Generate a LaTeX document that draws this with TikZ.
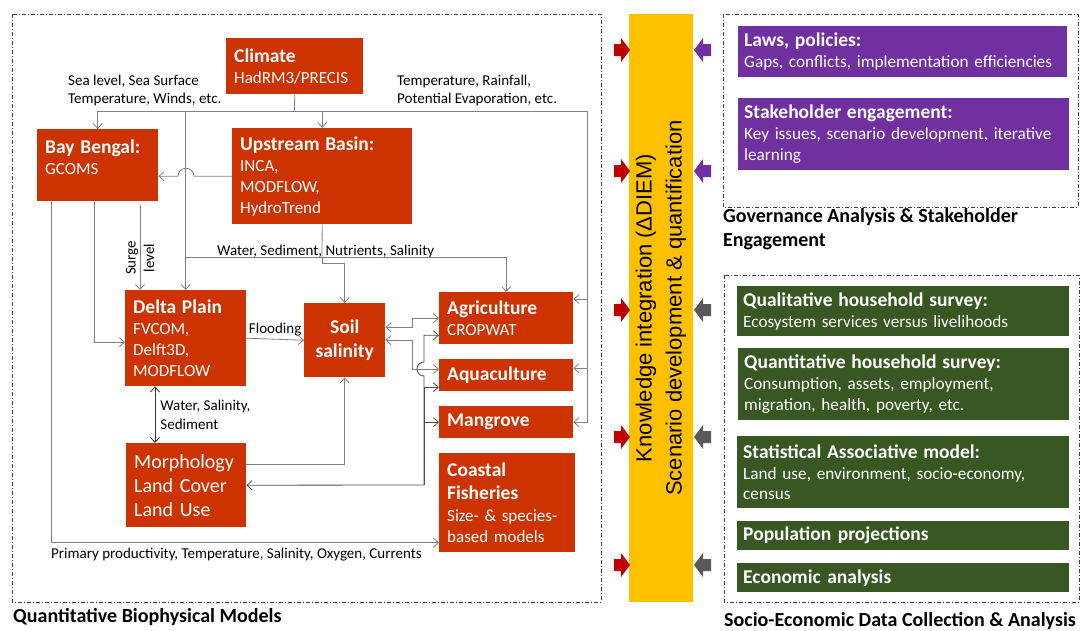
\documentclass[tikz,border=0pt]{standalone}
\usepackage{fontspec}
\setmainfont{Carlito}
\newfontfamily\arialfont{Liberation Sans}
\usetikzlibrary{arrows.meta, positioning, calc}

\definecolor{modelred}{RGB}{204,51,0}
\definecolor{govpurple}{RGB}{112,48,160}
\definecolor{socgreen}{RGB}{56,87,35}
\definecolor{integyellow}{RGB}{255,192,0}
\definecolor{linkgray}{RGB}{128,128,128}
\definecolor{darkred}{RGB}{192,0,0}
\definecolor{arrowgray}{RGB}{89,89,89}

\newcommand{\hdr}{\fontsize{19.5}{22}\selectfont\bfseries}

\tikzset{
    model/.style={fill=modelred, text=white, anchor=north west, align=left,
        inner xsep=8pt, inner ysep=2pt, font=\fontsize{17}{21}\selectfont},
    govbox/.style={fill=govpurple, text=white, anchor=north west, align=left,
        inner xsep=6pt, inner ysep=2pt, font=\fontsize{17.2}{21}\selectfont},
    socbox/.style={govbox, fill=socgreen},
    lbl/.style={inner sep=2pt, font=\fontsize{15}{18.5}\selectfont},
    grouplbl/.style={inner sep=1pt, font=\fontsize{20}{24}\selectfont\bfseries},
    groupframe/.style={draw=black!75, line width=0.7pt,
        dash pattern=on 4pt off 2pt on 1pt off 2pt},
    link/.style={draw=linkgray, line width=0.8pt},
    arr/.style={link, -{Straight Barb[length=5pt, width=9pt]}},
    dblarr/.style={link,
        {Straight Barb[length=5pt, width=9pt]}-{Straight Barb[length=5pt, width=9pt]}},
    darkarr/.style={draw=black!70, line width=0.8pt,
        -{Straight Barb[length=5pt, width=9pt]}},
}

\begin{document}
\begin{tikzpicture}[x=1pt, y=-1pt]
        \useasboundingbox (0,0) rectangle (1080,630);

        \draw[groupframe] (12,14) rectangle (601,602);
        \draw[groupframe] (723,14) rectangle (1078,207);
        \draw[groupframe] (724,275) rectangle (1079,602);

        \node[model, text width=121pt, minimum height=56pt] (climate) at (226,38)
            {{\hdr Climate}\\HadRM3/PRECIS};
        \node[model, text width=105pt, minimum height=72pt] (bay) at (37,129)
            {{\hdr Bay Bengal:}\\GCOMS\\[-4pt]\mbox{}};
        \node[model, text width=164pt, minimum height=96pt] (upstream) at (232,128)
            {{\hdr Upstream Basin:}\\INCA,\\MODFLOW,\\HydroTrend};
        \node[model, text width=105pt, minimum height=96pt] (delta) at (125,290)
            {{\hdr Delta Plain}\\FVCOM,\\Delft3D,\\MODFLOW};
        \node[model, text width=104pt, minimum height=84pt,
            font=\fontsize{20}{24}\selectfont] (morph) at (126,443)
            {Morphology\\Land Cover\\Land Use};
        \node[model, text width=65pt, minimum height=74pt, align=center,
            font=\fontsize{19.5}{24}\selectfont\bfseries] (soil) at (304,303)
            {Soil\\salinity};
        \node[model, text width=118pt, minimum height=52pt] (agri) at (439,292)
            {{\hdr Agriculture}\\CROPWAT};
        \node[model, text width=118pt, minimum height=32pt, font=\hdr] (aqua) at (439,359)
            {Aquaculture};
        \node[model, text width=118pt, minimum height=32pt, font=\hdr] (mangrove) at (439,406)
            {Mangrove};
        \node[model, text width=120pt, minimum height=99pt] (fish) at (439,453)
            {{\hdr Coastal\\[2pt]Fisheries}\\[1pt]Size- \& species-\\based models};

        \node[govbox, text width=317pt, minimum height=51pt] (laws) at (738,26)
            {{\hdr Laws, policies:}\\Gaps, conflicts, implementation efficiencies};
        \node[govbox, text width=319pt, minimum height=72pt] (stake) at (738,98)
            {{\hdr Stakeholder engagement:}\\Key issues, scenario development, iterative\\learning};

        \node[socbox, text width=320pt, minimum height=50pt] (qual) at (737,286)
            {{\hdr Qualitative household survey:}\\Ecosystem services versus livelihoods};
        \node[socbox, text width=319pt, minimum height=72pt] (quant) at (738,348)
            {{\hdr Quantitative household survey:}\\Consumption, assets, employment,\\migration, health, poverty, etc.};
        \node[socbox, text width=320pt, minimum height=72pt] (stat) at (737,436)
            {{\hdr Statistical Associative model:}\\Land use, environment, socio-economy,\\census};
        \node[socbox, text width=320pt, minimum height=29pt, font=\hdr] (pop) at (737,521)
            {Population projections};
        \node[socbox, text width=320pt, minimum height=29pt, font=\hdr] (econ) at (737,563)
            {Economic analysis};

        \node[
            fill=integyellow,
            rotate=90,
            minimum width=588pt,
            minimum height=64pt,
            inner sep=0pt,
            align=center,
            font=\arialfont\fontsize{22}{30}\selectfont
        ] (integ) at (661,308) {Knowledge integration (ΔDIEM)\\Scenario development \& quantification};

        \foreach \y in {50,171,310,437,565}
            \fill[darkred, shift={(0,\y)}] (614,-6) -- (621,-6) -- (621,-12) -- (630,0)
                -- (621,12) -- (621,6) -- (614,6) -- cycle;
        \foreach \y/\c in {50/govpurple,171/govpurple,310/arrowgray,437/arrowgray,565/arrowgray}
            \fill[\c, shift={(0,\y)}] (694,0) -- (703,-12) -- (703,-6) -- (711,-6)
                -- (711,6) -- (703,6) -- (703,12) -- cycle;

        \node[grouplbl, anchor=west] (biolbl) at (12,617) {Quantitative Biophysical Models};
        \node[grouplbl, anchor=north west, align=left] (govlbl) at (722,207)
            {Governance Analysis \& Stakeholder\\Engagement};
        \node[grouplbl, anchor=west] (soclbl) at (723,621) {Socio-Economic Data Collection \& Analysis};

        \node[lbl, anchor=west, align=left] (sealbl) at (66,90.5)
            {Sea level, Sea Surface\\Temperature, Winds, etc.};
        \node[lbl, anchor=west, align=left] (templbl) at (395,90.5)
            {Temperature, Rainfall,\\Potential Evaporation, etc.};
        \node[lbl, anchor=west] (waterlbl) at (215,251) {Water, Sediment, Nutrients, Salinity};
        \node[lbl, anchor=west] (primlbl) at (49,555)
            {Primary productivity, Temperature, Salinity, Oxygen, Currents};

        \coordinate (cbus) at (294.5,111);
        \coordinate (dbus) at (delta.north |- cbus);
        \coordinate (tbus) at (587,111);
        \coordinate (wbus) at (322,257);
        \coordinate (kbus) at (424,485);

        \draw[link] (climate.south) -- (cbus);
        \draw[arr] (cbus) -| (bay.north);
        \draw[arr] (cbus) -| (upstream.north);
        \draw[link] (cbus) -- (tbus);
        \draw[arr] (tbus) |- ([yshift=-7pt]agri.north east);
        \draw[arr] (tbus) |- ([yshift=7pt]aqua.east);
        \draw[arr] (tbus) |- (mangrove.east);
        \draw[arr] (dbus) -- (delta.north);
        \draw[arr] (upstream.west) -- ++(-38,0) arc[start angle=0, end angle=180, radius=8pt]
            -- (bay.east |- upstream.west);

        \draw[link] (upstream.south) -- (wbus);
        \draw[link] (wbus) -- (dbus |- wbus);
        \draw[arr] (wbus) -| (agri.north);
        \draw[arr] (wbus) -- ++(0,6) -| (soil.north);

        \draw[arr] ([xshift=14pt]bay.south west) |- ([yshift=-40pt]fish.west);
        \draw[arr] ([xshift=57pt]bay.south west) |- ([yshift=-4pt]delta.west);
        \draw[arr] ([xshift=103pt, yshift=-4pt]bay.south west) -- ([xshift=15pt]delta.north west)
            node[lbl, pos=0.62, rotate=90, align=center] {Surge\\level};

        \draw[arr] (delta.east) -- (soil.west) node[lbl, midway, above, yshift=1pt] {Flooding};
        \draw[
            draw=black!80,
            line width=0.8pt,
            {Straight Barb[length=5pt, width=9pt]}-{Straight Barb[length=5pt, width=9pt]}
        ] ([xshift=30pt]delta.south west) -- ([xshift=29pt]morph.north west)
            node[lbl, midway, right, align=left, xshift=3pt] {Water, Salinity,\\Sediment};
        \draw[arr] ([yshift=21pt]morph.east) -| (soil.south);

        \draw[dblarr] ([yshift=13pt]soil.east) -- ++(27,0) |- (agri.west);
        \draw[dblarr] (soil.east) -- ++(27,0) |- ([yshift=6pt]aqua.west);

        \draw[darkarr] (kbus) -- (morph.east);
        \draw[darkarr] (kbus) -- ++(0,-109) arc[start angle=-90, end angle=-270, radius=7pt]
            |- ([yshift=-17pt]agri.west);
        \draw[darkarr] (kbus) |- ([yshift=-12pt]aqua.west);
        \draw[darkarr] (kbus) |- (mangrove.west);
    \end{tikzpicture}
\end{document}
